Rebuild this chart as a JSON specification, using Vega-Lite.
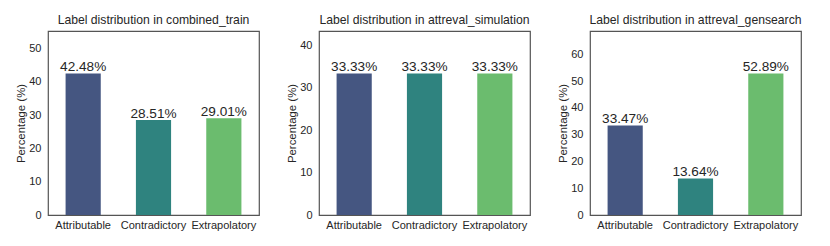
{
  "$schema": "https://vega.github.io/schema/vega-lite/v6.json",
  "padding": {"left": 15, "top": 13, "right": 0, "bottom": 0},
  "background": "white",
  "config": {
    "font": "Liberation Sans",
    "view": {"stroke": "#555555", "strokeWidth": 1.2},
    "axis": {"domain": false, "ticks": false, "grid": false, "labelColor": "#262626", "titleColor": "#262626", "labelFont": "Liberation Sans", "titleFont": "Liberation Sans", "titleFontWeight": "normal"},
    "title": {"font": "Liberation Sans", "fontSize": 12.2, "fontWeight": "normal", "color": "#262626", "offset": 5},
    "concat": {"spacing": 60}
  },
  "bounds": "flush",
  "datasets": {
    "combined_train": [
      {"label": "Attributable", "pct": 42.48},
      {"label": "Contradictory", "pct": 28.51},
      {"label": "Extrapolatory", "pct": 29.01}
    ],
    "attreval_simulation": [
      {"label": "Attributable", "pct": 33.33},
      {"label": "Contradictory", "pct": 33.33},
      {"label": "Extrapolatory", "pct": 33.33}
    ],
    "attreval_gensearch": [
      {"label": "Attributable", "pct": 33.47},
      {"label": "Contradictory", "pct": 13.64},
      {"label": "Extrapolatory", "pct": 52.89}
    ]
  },
  "resolve": {"scale": {"y": "independent"}},
  "hconcat": [
    {
      "title": "Label distribution in combined_train",
      "width": 211, "height": 184,
      "data": {"name": "combined_train"},
      "transform": [{"calculate": "format(datum.pct, '.2f') + '%'", "as": "pct_text"}],
      "encoding": {
        "x": {"field": "label", "type": "nominal", "sort": null, "title": null,
              "scale": {"paddingInner": 0.5, "paddingOuter": 0.25},
              "axis": {"labelAngle": 0, "labelFontSize": 11, "labelPadding": 4}},
        "y": {"field": "pct", "type": "quantitative", "title": "Percentage (%)",
              "scale": {"domain": [0, 55.22], "nice": false},
              "axis": {"values": [0, 10, 20, 30, 40, 50], "labelFontSize": 11, "titleFontSize": 11.4, "labelPadding": 7, "titlePadding": 2}}
      },
      "layer": [
        {"mark": {"type": "bar"},
         "encoding": {"color": {"field": "label", "type": "nominal", "sort": null, "legend": null,
                     "scale": {"domain": ["Attributable", "Contradictory", "Extrapolatory"], "range": ["#455681", "#2f837f", "#6bbc6e"]}}}},
        {"mark": {"type": "text", "baseline": "alphabetic", "dy": -2.5, "fontSize": 13.6, "color": "#262626"},
         "encoding": {"text": {"field": "pct_text", "type": "nominal"}}}
      ]
    },
    {
      "title": "Label distribution in attreval_simulation",
      "width": 211, "height": 184,
      "data": {"name": "attreval_simulation"},
      "transform": [{"calculate": "format(datum.pct, '.2f') + '%'", "as": "pct_text"}],
      "encoding": {
        "x": {"field": "label", "type": "nominal", "sort": null, "title": null,
              "scale": {"paddingInner": 0.5, "paddingOuter": 0.25},
              "axis": {"labelAngle": 0, "labelFontSize": 11, "labelPadding": 4}},
        "y": {"field": "pct", "type": "quantitative", "title": "Percentage (%)",
              "scale": {"domain": [0, 43.33], "nice": false},
              "axis": {"values": [0, 10, 20, 30, 40], "labelFontSize": 11, "titleFontSize": 11.4, "labelPadding": 7, "titlePadding": 2}}
      },
      "layer": [
        {"mark": {"type": "bar"},
         "encoding": {"color": {"field": "label", "type": "nominal", "sort": null, "legend": null,
                     "scale": {"domain": ["Attributable", "Contradictory", "Extrapolatory"], "range": ["#455681", "#2f837f", "#6bbc6e"]}}}},
        {"mark": {"type": "text", "baseline": "alphabetic", "dy": -2.5, "fontSize": 13.6, "color": "#262626"},
         "encoding": {"text": {"field": "pct_text", "type": "nominal"}}}
      ]
    },
    {
      "title": "Label distribution in attreval_gensearch",
      "width": 211, "height": 184,
      "data": {"name": "attreval_gensearch"},
      "transform": [{"calculate": "format(datum.pct, '.2f') + '%'", "as": "pct_text"}],
      "encoding": {
        "x": {"field": "label", "type": "nominal", "sort": null, "title": null,
              "scale": {"paddingInner": 0.5, "paddingOuter": 0.25},
              "axis": {"labelAngle": 0, "labelFontSize": 11, "labelPadding": 4}},
        "y": {"field": "pct", "type": "quantitative", "title": "Percentage (%)",
              "scale": {"domain": [0, 68.76], "nice": false},
              "axis": {"values": [0, 10, 20, 30, 40, 50, 60], "labelFontSize": 11, "titleFontSize": 11.4, "labelPadding": 7, "titlePadding": 2}}
      },
      "layer": [
        {"mark": {"type": "bar"},
         "encoding": {"color": {"field": "label", "type": "nominal", "sort": null, "legend": null,
                     "scale": {"domain": ["Attributable", "Contradictory", "Extrapolatory"], "range": ["#455681", "#2f837f", "#6bbc6e"]}}}},
        {"mark": {"type": "text", "baseline": "alphabetic", "dy": -2.5, "fontSize": 13.6, "color": "#262626"},
         "encoding": {"text": {"field": "pct_text", "type": "nominal"}}}
      ]
    }
  ]
}
